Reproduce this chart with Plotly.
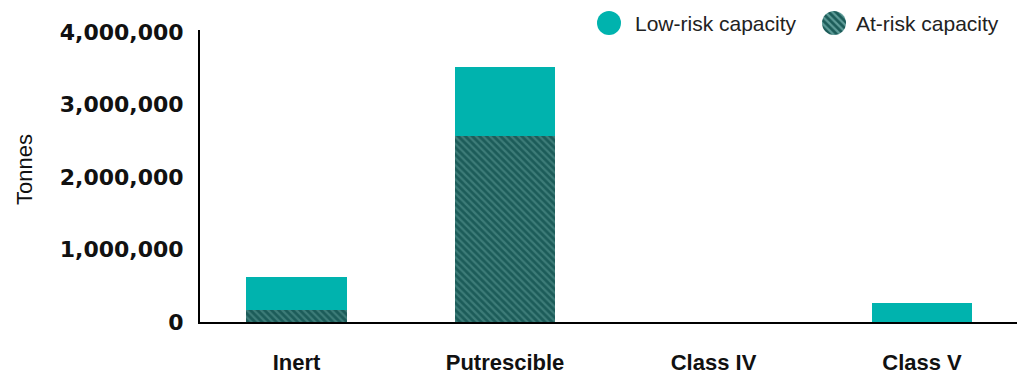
import plotly.graph_objects as go

categories = ["Inert", "Putrescible", "Class IV", "Class V"]
at_risk = [165000, 2565000, 0, 0]
low_risk = [452000, 948000, 0, 266000]
y_ticks = [0, 1000000, 2000000, 3000000, 4000000]
y_ticklabels = ["0", "1,000,000", "2,000,000", "3,000,000", "4,000,000"]
series_names = ["Low-risk capacity", "At-risk capacity"]

TEAL = "#00B3AE"
DARK = "#1C5C59"
STRIPE = "#5E9C98"

W, H = 1017, 375
FONT = "Liberation Sans"

fig = go.Figure()
fig.add_trace(go.Bar(
    x=categories, y=at_risk, name=series_names[1], width=0.48,
    marker=dict(color=DARK, line=dict(width=0),
                pattern=dict(shape="\\", bgcolor=DARK, fgcolor=STRIPE, size=5, solidity=0.45)),
    showlegend=False,
))
fig.add_trace(go.Bar(
    x=categories, y=low_risk, name=series_names[0], width=0.48,
    marker=dict(color=TEAL, line=dict(width=0)),
    showlegend=False,
))

# legend circles (pie traces so the hatch can be drawn)
def px_dom(cx, cy, d):
    return dict(x=[(cx - d / 2) / W, (cx + d / 2) / W],
                y=[(H - cy - d / 2) / H, (H - cy + d / 2) / H])

fig.add_trace(go.Pie(values=[1], labels=[series_names[0]], domain=px_dom(609, 23, 24),
                     marker=dict(colors=[TEAL], line=dict(width=0)),
                     textinfo="none", hoverinfo="skip", showlegend=False, sort=False))
fig.add_trace(go.Pie(values=[1], labels=[series_names[1]], domain=px_dom(834, 23, 24),
                     marker=dict(colors=[DARK], line=dict(width=0),
                                 pattern=dict(shape="\\", bgcolor=DARK, fgcolor=STRIPE, size=5, solidity=0.45)),
                     textinfo="none", hoverinfo="skip", showlegend=False, sort=False))

annotations = [
    dict(text=series_names[0], x=633 / W, y=(H - 23) / H, xref="paper", yref="paper",
         xanchor="left", yanchor="middle", showarrow=False,
         font=dict(family=FONT, size=21, color="#222222")),
    dict(text=series_names[1], x=854 / W, y=(H - 23) / H, xref="paper", yref="paper",
         xanchor="left", yanchor="middle", showarrow=False,
         font=dict(family=FONT, size=21, color="#222222")),
    dict(text="Tonnes", x=24 / W, y=(H - 170) / H, xref="paper", yref="paper",
         xanchor="center", yanchor="middle", textangle=-90, showarrow=False,
         font=dict(family=FONT, size=22, color="#111111")),
]

unit = 208.5
x0 = 296.5
fig.update_layout(
    width=W, height=H,
    margin=dict(l=0, r=0, t=0, b=0, autoexpand=False),
    paper_bgcolor="white", plot_bgcolor="white",
    barmode="stack",
    showlegend=False,
    annotations=annotations,
    xaxis=dict(
        domain=[200 / W, 1],
        range=[(200 - x0) / unit, (W - x0) / unit],
        showline=True, linecolor="black", linewidth=2,
        showgrid=False, zeroline=False, ticks="",
        automargin=False,
        ticklabelstandoff=20,
        tickfont=dict(family=FONT, size=22, color="#111111", weight="bold"),
        fixedrange=True,
    ),
    yaxis=dict(
        domain=[(H - 322) / H, (H - 30) / H],
        range=[0, 4000000 * 292 / 290],
        tickvals=y_ticks, ticktext=y_ticklabels,
        showline=True, linecolor="black", linewidth=2,
        showgrid=False, zeroline=False, ticks="",
        automargin=False,
        ticklabelstandoff=10,
        tickfont=dict(family="DejaVu Sans", size=22, color="#111111", weight="bold"),
        fixedrange=True,
    ),
)

fig.write_html("out.html")
